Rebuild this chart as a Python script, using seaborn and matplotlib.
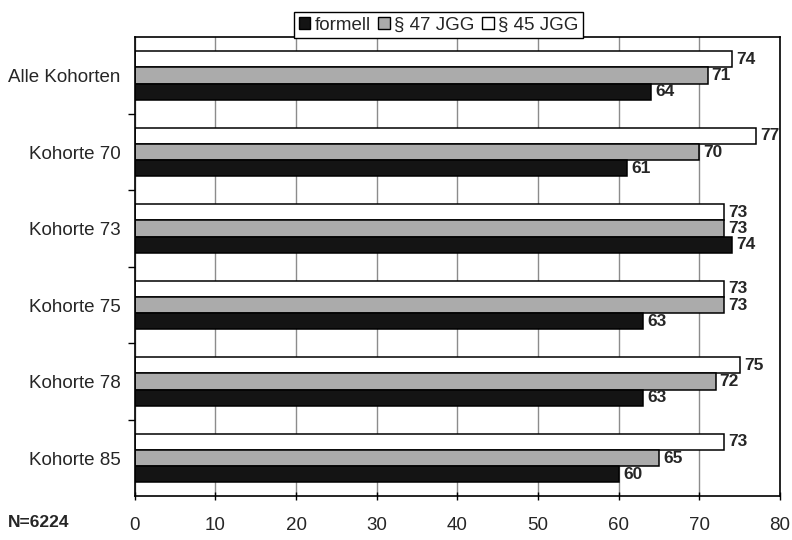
import matplotlib
matplotlib.use("Agg")
import matplotlib.pyplot as plt
import seaborn as sns
import pandas as pd
import numpy as np
from matplotlib.patches import Patch

categories = ["Alle Kohorten", "Kohorte 70", "Kohorte 73", "Kohorte 75", "Kohorte 78", "Kohorte 85"]
formell = [64, 61, 74, 63, 63, 60]
jgg47 = [71, 70, 73, 73, 72, 65]
jgg45 = [74, 77, 73, 73, 75, 73]
series_names = ["formell", "§ 47 JGG", "§ 45 JGG"]
x_ticks = [0, 10, 20, 30, 40, 50, 60, 70, 80]
note = "N=6224"

sns.set_theme(style="white")
plt.rcParams["font.family"] = ["Liberation Sans", "DejaVu Sans"]

rows = []
for name, vals in zip(series_names, [formell, jgg47, jgg45]):
    for c, v in zip(categories, vals):
        rows.append({"Kategorie": c, "Serie": name, "Wert": v})
df = pd.DataFrame(rows)

colors = {"formell": "#141414", "§ 47 JGG": "#ababab", "§ 45 JGG": "#ffffff"}
hue_order = ["§ 45 JGG", "§ 47 JGG", "formell"]

fig = plt.figure(figsize=(7.92, 5.40), dpi=100)
ax = fig.add_axes([0.170, 0.081, 0.815, 0.850])

sns.barplot(data=df, y="Kategorie", x="Wert", hue="Serie", order=categories,
            hue_order=hue_order, palette=colors, orient="h", width=0.63,
            edgecolor="black", linewidth=1.1, ax=ax, legend=False, saturation=1)

for cont in ax.containers:
    ax.bar_label(cont, fmt="%d", padding=3, fontsize=12.5, fontweight="bold")

ax.set_xlim(0, 80)
ax.set_ylim(len(categories) - 0.5, -0.5)
ax.set_xticks(x_ticks)
ax.set_xticklabels([str(t) for t in x_ticks], fontsize=13.5)
ax.set_xlabel("")
ax.set_ylabel("")
ax.tick_params(axis="x", which="major", direction="inout", length=6, width=1, pad=12, color="black", bottom=True)
ax.tick_params(axis="y", which="major", length=0, pad=10, labelsize=13.5)
ax.set_yticks(np.arange(len(categories) - 1) + 0.5, minor=True)
ax.tick_params(axis="y", which="minor", direction="out", length=5, width=1, color="black", left=True)
ax.xaxis.grid(True, color="#8c8c8c", linewidth=1)
ax.yaxis.grid(False)
ax.set_axisbelow(True)
for s in ax.spines.values():
    s.set_color("black")
    s.set_linewidth(1.2)

handles = [Patch(facecolor=colors[n], edgecolor="black", linewidth=1.0, label=n) for n in series_names]
fig.legend(handles=handles, loc="upper center", bbox_to_anchor=(0.554, 0.995), ncol=3,
           frameon=True, fancybox=False, edgecolor="black", fontsize=13.5,
           handlelength=0.6, handleheight=0.6, handletextpad=0.25, columnspacing=0.4,
           borderpad=0.25, framealpha=1)

fig.text(0.010, 0.033, note, fontsize=12.5, fontweight="bold", va="center", ha="left")

fig.savefig("out.png", dpi=100)
